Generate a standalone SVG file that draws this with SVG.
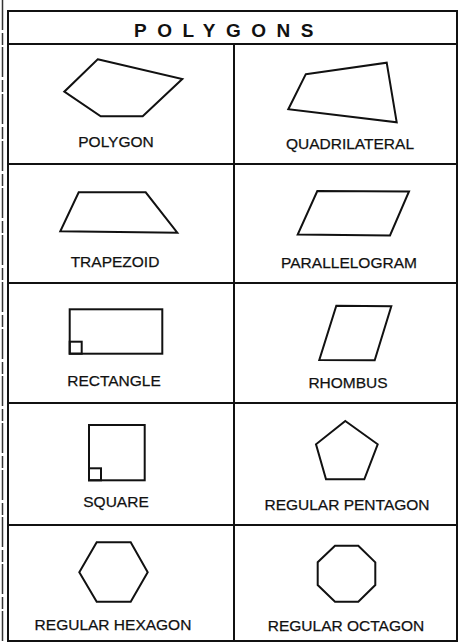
<svg xmlns="http://www.w3.org/2000/svg" width="459" height="644" viewBox="0 0 459 644">
<style>
.grid{stroke:#111;stroke-width:2;fill:none}
.shape{stroke:#111;stroke-width:2;fill:none;stroke-linejoin:miter}
.lbl{font-family:"Liberation Sans",Arial,sans-serif;font-size:15.5px;fill:#111;text-anchor:middle;stroke:#111;stroke-width:0.25}
.title{font-family:"Liberation Sans",Arial,sans-serif;font-size:19px;font-weight:bold;fill:#111;letter-spacing:10.5px}
</style>
<rect x="0" y="0" width="459" height="644" fill="#fff"/>
<line x1="2.5" y1="0" x2="2.5" y2="644" stroke="#333" stroke-width="1.5" stroke-dasharray="30 3 12 2"/>
<g id="connectors">
<rect class="grid" x="8" y="11" width="449" height="630"/>
<line class="grid" x1="8" y1="44" x2="457" y2="44"/>
<line class="grid" x1="8" y1="164" x2="457" y2="164"/>
<line class="grid" x1="8" y1="283" x2="457" y2="283"/>
<line class="grid" x1="8" y1="403" x2="457" y2="403"/>
<line class="grid" x1="8" y1="525" x2="457" y2="525"/>
<line class="grid" x1="234" y1="44" x2="234" y2="641"/>
</g>
<g id="title">
<text class="title" x="134" y="37">POLYGONS</text>
</g>
<g id="polygon">
<polygon class="shape" points="97.7,59.3 182.3,79 142.7,116.3 100.7,116.3 64.3,91.7"/>
<text class="lbl" x="116" y="147">POLYGON</text>
</g>
<g id="quadrilateral">
<polygon class="shape" points="305.7,74.3 386.7,62.7 396.7,122.3 288.3,109.3"/>
<text class="lbl" x="350" y="149">QUADRILATERAL</text>
</g>
<g id="trapezoid">
<polygon class="shape" points="78.7,192.3 145.7,192.3 177.3,232.7 60.3,231.3"/>
<text class="lbl" x="115" y="267">TRAPEZOID</text>
</g>
<g id="parallelogram">
<polygon class="shape" points="317.3,191 409,191.5 390,235.5 297.7,234.5"/>
<text class="lbl" x="349" y="268">PARALLELOGRAM</text>
</g>
<g id="rectangle">
<rect class="shape" x="69.7" y="309.3" width="92.6" height="44.4"/>
<rect class="shape" x="69.7" y="341.7" width="12" height="12"/>
<text class="lbl" x="114" y="386">RECTANGLE</text>
</g>
<g id="rhombus">
<polygon class="shape" points="336.3,305.7 391.3,306.3 374.7,360.3 319.3,360"/>
<text class="lbl" x="348" y="388">RHOMBUS</text>
</g>
<g id="square">
<rect class="shape" x="89" y="425" width="55.7" height="55.3"/>
<rect class="shape" x="89" y="468.3" width="12" height="12"/>
<text class="lbl" x="116" y="507">SQUARE</text>
</g>
<g id="pentagon">
<polygon class="shape" points="345.3,421 377.7,444.3 364.3,479.3 326,479.3 316,444.3"/>
<text class="lbl" x="347" y="510">REGULAR PENTAGON</text>
</g>
<g id="hexagon">
<polygon class="shape" points="96.7,542.3 130.7,542.3 147.7,572.3 130.7,601.7 96.7,601.7 79.3,572.3"/>
<text class="lbl" x="113" y="630">REGULAR HEXAGON</text>
</g>
<g id="octagon">
<polygon class="shape" points="335,545.7 358.3,545.7 375.3,562.3 375.3,585 358.3,601.7 335,601.7 317.7,585 317.7,562.3"/>
<text class="lbl" x="346" y="631">REGULAR OCTAGON</text>
</g>
</svg>
